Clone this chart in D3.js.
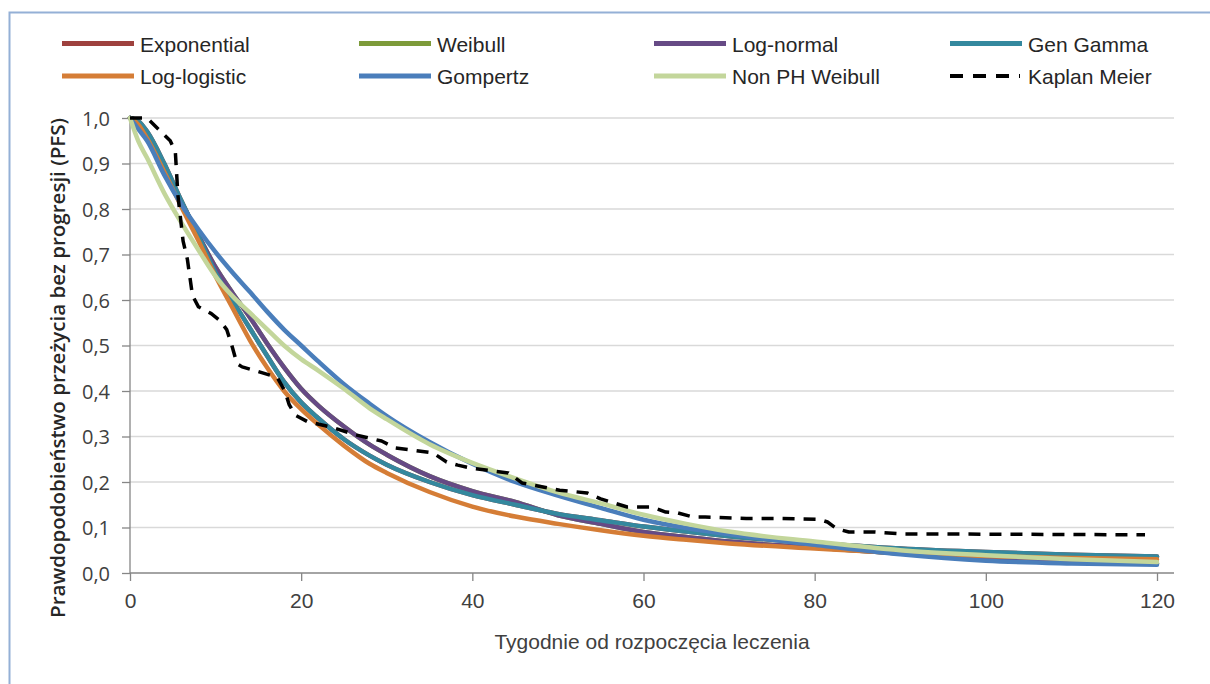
<!DOCTYPE html>
<html>
<head>
<meta charset="utf-8">
<script src="https://cdn.jsdelivr.net/npm/d3@7"></script>
<style>
html,body{margin:0;padding:0;background:#fff;}
svg{display:block;}
</style>
</head>
<body>
<svg id="chart" width="1210" height="684"></svg>
<script>
// ---- data ----
const weeks = [0,1,2,4,6,8,10,12,14,16,18,20,22,25,28,30,35,40,45,50,55,60,65,70,80,90,100,110,120];
const genGamma    = [1,0.993,0.97,0.9,0.818,0.74,0.66,0.598,0.538,0.478,0.42,0.375,0.34,0.294,0.258,0.238,0.2,0.171,0.15,0.13,0.116,0.102,0.091,0.081,0.066,0.054,0.046,0.04,0.036];
const logNormal   = [1,0.99,0.962,0.89,0.815,0.742,0.672,0.615,0.562,0.505,0.452,0.405,0.368,0.322,0.282,0.26,0.213,0.18,0.156,0.127,0.108,0.09,0.079,0.069,0.056,0.043,0.032,0.025,0.021];
const exponential = [1,0.993,0.97,0.9,0.818,0.74,0.66,0.598,0.538,0.478,0.42,0.375,0.34,0.294,0.258,0.238,0.2,0.171,0.15,0.13,0.116,0.102,0.091,0.081,0.066,0.054,0.046,0.04,0.036];
const weibull     = [1,0.99,0.962,0.89,0.815,0.742,0.672,0.615,0.562,0.505,0.452,0.405,0.368,0.322,0.282,0.26,0.213,0.18,0.156,0.127,0.108,0.09,0.079,0.069,0.056,0.043,0.032,0.025,0.021];
const logLogistic = [1,0.985,0.955,0.882,0.805,0.73,0.652,0.582,0.512,0.452,0.4,0.36,0.326,0.28,0.24,0.22,0.178,0.146,0.124,0.108,0.094,0.082,0.073,0.065,0.054,0.044,0.037,0.033,0.03];
const gompertz    = [1,0.975,0.95,0.875,0.81,0.755,0.705,0.66,0.618,0.575,0.535,0.5,0.465,0.415,0.372,0.345,0.288,0.24,0.2,0.17,0.143,0.117,0.099,0.085,0.062,0.041,0.027,0.021,0.018];
const nonPHWeibull= [1,0.948,0.912,0.835,0.77,0.71,0.652,0.608,0.572,0.536,0.5,0.47,0.445,0.405,0.362,0.338,0.283,0.242,0.208,0.177,0.153,0.128,0.108,0.091,0.069,0.05,0.039,0.03,0.024];
const kmWeeks = [0,2,4.7,5.3,5.6,6.2,6.7,7.3,8,9.5,10.5,11.3,11.9,12.5,13.1,14.4,17.2,18.1,18.6,19.3,20.7,23.6,26.5,29.4,31,35.4,37,38.3,40,44.2,45.8,50.2,53.4,55,58.1,61,62.6,64,65.8,67.2,72,75.3,80.5,81.5,82.6,84,87,90.2,118.6];
const kmSurv  = [1,1,0.95,0.925,0.83,0.73,0.69,0.61,0.585,0.57,0.555,0.535,0.5,0.46,0.453,0.446,0.43,0.4,0.37,0.347,0.333,0.32,0.303,0.29,0.275,0.264,0.244,0.237,0.23,0.22,0.198,0.182,0.176,0.163,0.145,0.145,0.134,0.132,0.123,0.123,0.12,0.12,0.118,0.112,0.097,0.09,0.09,0.086,0.084];
const seriesNames = ["Exponential","Weibull","Log-normal","Gen Gamma","Log-logistic","Gompertz","Non PH Weibull","Kaplan Meier"];
const seriesColors = ["#9E413E","#7D9B3A","#664A85","#34889E","#D57D36","#4A7EBB","#C3D69B","#000000"];
const xTicks = [0,20,40,60,80,100,120];
const yTicks = [0,0.1,0.2,0.3,0.4,0.5,0.6,0.7,0.8,0.9,1.0];
const xTitle = "Tygodnie od rozpoczęcia leczenia";
const yTitle = "Prawdopodobieństwo przeżycia bez progresji (PFS)";

// ---- drawing ----
const svg = d3.select("#chart");
const W = 1210, H = 684;
svg.append("rect").attr("x",9.5).attr("y",12.5).attr("width",W+10).attr("height",H+10)
  .attr("fill","#fff").attr("stroke","#94B0D6").attr("stroke-width",2);

const x = d3.scaleLinear().domain([0,120]).range([130,1157]);
const y = d3.scaleLinear().domain([0,1]).range([573,118]);
const plotRight = 1174;

// gridlines
svg.append("g").selectAll("line").data(yTicks.filter(d=>d>0)).join("line")
  .attr("x1",130).attr("x2",plotRight).attr("y1",d=>y(d)).attr("y2",d=>y(d))
  .attr("stroke","#D9D9D9").attr("stroke-width",1.5);

// axes
const xAxis = d3.axisBottom(x).tickValues(xTicks).tickSize(8).tickFormat(d=>d);
const gx = svg.append("g").attr("transform","translate(0,573)").call(xAxis);
gx.select(".domain").remove();
gx.selectAll(".tick line").attr("stroke","#868686").attr("stroke-width",1.3);
gx.selectAll(".tick text").attr("font-family","Liberation Sans, Arial, sans-serif").attr("font-size",21)
  .attr("fill","#404040").attr("y",20).attr("dy","0.71em");
svg.append("line").attr("x1",130).attr("x2",plotRight).attr("y1",573).attr("y2",573)
  .attr("stroke","#868686").attr("stroke-width",1.3);

const fmt = d=> d3.format(".1f")(d).replace(".",",");
const yAxis = d3.axisLeft(y).tickValues(yTicks).tickSize(8).tickFormat(fmt);
const gy = svg.append("g").attr("transform","translate(130,0)").call(yAxis);
gy.select(".domain").attr("stroke","#868686").attr("stroke-width",1.3).attr("d","M0,118V573");
gy.selectAll(".tick line").attr("stroke","#868686").attr("stroke-width",1.3);
gy.selectAll(".tick text").attr("font-family","Open Sans, sans-serif").attr("font-size",20)
  .attr("fill","#404040").attr("x",-20).attr("dy","0.35em");

// titles
svg.append("text").attr("x",652).attr("y",649).attr("text-anchor","middle")
  .attr("font-family","Liberation Sans, Arial, sans-serif").attr("font-size",21).attr("fill","#404040")
  .text(xTitle);
svg.append("text").attr("transform","translate(65,368) rotate(-90)").attr("text-anchor","middle")
  .attr("font-family","Open Sans, sans-serif").attr("font-size",20).attr("font-weight",600).attr("fill","#262626")
  .attr("textLength",500).attr("lengthAdjust","spacingAndGlyphs")
  .text(yTitle);

// series
const paramSeries = [exponential, weibull, logNormal, genGamma, logLogistic, gompertz, nonPHWeibull];
const line = d3.line().x(d=>x(d[0])).y(d=>y(d[1])).curve(d3.curveMonotoneX);
paramSeries.forEach((vals,i)=>{
  svg.append("path").datum(weeks.map((w,j)=>[w,vals[j]]))
    .attr("d",line).attr("fill","none").attr("stroke",seriesColors[i])
    .attr("stroke-width",4.5).attr("stroke-linejoin","round").attr("stroke-linecap","round");
});
const kmLine = d3.line().x(d=>x(d[0])).y(d=>y(d[1]));
svg.append("path").datum(kmWeeks.map((w,j)=>[w,kmSurv[j]]))
  .attr("d",kmLine).attr("fill","none").attr("stroke","#000")
  .attr("stroke-width",3.5).attr("stroke-dasharray","12,9").attr("stroke-linejoin","round");

// legend
const colX = [62,359,654,950];
const rowY = [43.5,76];
seriesNames.forEach((name,i)=>{
  const c = i%4, r = Math.floor(i/4);
  const g = svg.append("g");
  const ln = g.append("line").attr("x1",colX[c]).attr("x2",colX[c]+72).attr("y1",rowY[r]).attr("y2",rowY[r])
    .attr("stroke",seriesColors[i]).attr("stroke-width",i===7?4:5);
  if(i===7) ln.attr("stroke-dasharray","13,10").attr("x2",colX[c]+70);
  g.append("text").attr("x",colX[c]+78).attr("y",rowY[r]+8)
    .attr("font-family","Liberation Sans, Arial, sans-serif").attr("font-size",21).attr("fill","#262626")
    .text(name);
});
</script>
</body>
</html>
